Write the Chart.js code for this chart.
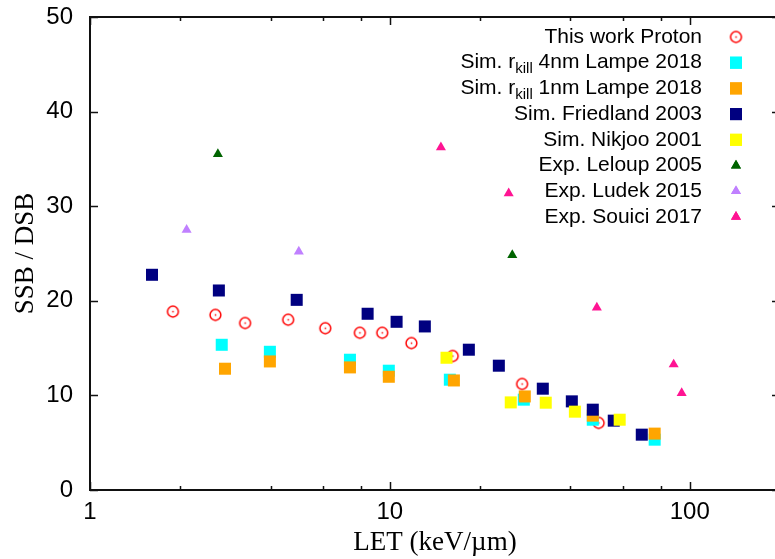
<!DOCTYPE html>
<html>
<head>
<meta charset="utf-8">
<script src="https://cdn.jsdelivr.net/npm/chart.js@4.4.0/dist/chart.umd.min.js"></script>
<style>
  html, body { margin: 0; padding: 0; background: #fff; overflow: hidden; }
  #wrap { width: 790px; height: 559px; }
</style>
</head>
<body>
<div id="wrap"><canvas id="chart"></canvas></div>
<script>
// series labels ("_{...}" marks a subscript)
const seriesLabels = [
    'This work Proton',
    'Sim. r_{kill} 4nm Lampe 2018',
    'Sim. r_{kill} 1nm Lampe 2018',
    'Sim. Friedland 2003',
    'Sim. Nikjoo 2001',
    'Exp. Leloup 2005',
    'Exp. Ludek 2015',
    'Exp. Souici 2017'
];

// LET (keV/um) and SSB/DSB values
const protonLet = [1.89, 2.62, 3.29, 4.58, 6.09, 7.94, 9.43, 11.8, 16.2, 27.6, 49.7];
const protonRatio = [18.86, 18.51, 17.65, 18.0, 17.1, 16.62, 16.62, 15.53, 14.16, 11.21, 7.09];

const lampe4Let = [2.75, 3.98, 7.36, 9.92, 15.85, 27.97, 47.5, 76.4];
const lampe4Ratio = [15.35, 14.61, 13.77, 12.61, 11.66, 9.55, 7.43, 5.32];

const lampe1Let = [2.82, 3.98, 7.36, 9.92, 16.35, 28.18, 47.5, 76.4];
const lampe1Ratio = [12.82, 13.59, 12.96, 11.97, 11.58, 9.89, 7.86, 5.96];

const friedlandLet = [1.61, 2.69, 4.89, 8.43, 10.53, 13.08, 18.34, 23.09, 32.36, 40.44, 47.5, 55.8, 69.2];
const friedlandRatio = [22.75, 21.09, 20.1, 18.63, 17.78, 17.29, 14.83, 13.14, 10.71, 9.37, 8.49, 7.33, 5.85];

const nikjooLet = [15.45, 25.3, 33.1, 41.4, 58.4];
const nikjooRatio = [13.98, 9.26, 9.23, 8.28, 7.43];

const leloupLet = [2.67, 25.6];
const leloupRatio = [35.5, 24.83];

const ludekLet = [2.1, 4.97];
const ludekRatio = [27.5, 25.2];

const souiciLet = [14.8, 24.9, 49.0, 88.4, 94.0];
const souiciRatio = [36.23, 31.37, 19.29, 13.27, 10.25];

const xTickValues = [1, 10, 100];
const xMinorValues = [2, 4, 6, 8, 20, 40, 60, 80, 200];
const yTickValues = [0, 10, 20, 30, 40, 50];

function pts(xs, ys) {
    return xs.map((x, i) => ({ x: x, y: ys[i] }));
}

// open circle with a dot in the middle
const ringImg = document.createElement('canvas');
ringImg.width = 15; ringImg.height = 15;
(function() {
    const c = ringImg.getContext('2d');
    c.strokeStyle = '#ff0000';
    c.lineWidth = 1.5;
    c.beginPath();
    c.arc(7.5, 7.5, 5.4, 0, Math.PI * 2);
    c.stroke();
    c.fillStyle = '#ff0000';
    c.fillRect(6.8, 6.8, 1.5, 1.5);
})();

function squareSet(label, xs, ys, color, i) {
    return { label: label, data: pts(xs, ys), backgroundColor: color, pointStyle: 'rect',
             pointRadius: 8.5, pointBorderWidth: 0, order: -i };
}
function triSet(label, xs, ys, color, i) {
    return { label: label, data: pts(xs, ys), backgroundColor: color, pointStyle: 'triangle',
             pointRadius: 5.8, pointBorderWidth: 0, order: -i };
}

const datasets = [
    { label: seriesLabels[0], data: pts(protonLet, protonRatio), pointStyle: ringImg,
      pointRadius: 7, backgroundColor: '#ff0000', order: 0 },
    squareSet(seriesLabels[1], lampe4Let, lampe4Ratio, '#00ffff', 1),
    squareSet(seriesLabels[2], lampe1Let, lampe1Ratio, '#ffa500', 2),
    squareSet(seriesLabels[3], friedlandLet, friedlandRatio, '#000080', 3),
    squareSet(seriesLabels[4], nikjooLet, nikjooRatio, '#ffff00', 4),
    triSet(seriesLabels[5], leloupLet, leloupRatio, '#006400', 5),
    triSet(seriesLabels[6], ludekLet, ludekRatio, '#c080ff', 6),
    triSet(seriesLabels[7], souiciLet, souiciRatio, '#ff1493', 7)
];

// frame with inward ticks on all four sides
const framePlugin = {
    id: 'frame',
    afterDatasetsDraw(chart) {
        const { ctx, chartArea: a, scales } = chart;
        ctx.save();
        ctx.strokeStyle = '#111';
        ctx.lineWidth = 1.5;
        ctx.beginPath();
        xTickValues.concat(xMinorValues).forEach(v => {
            const len = xTickValues.includes(v) ? 8 : 4;
            const px = Math.round(scales.x.getPixelForValue(v)) + 0.5;
            ctx.moveTo(px, a.bottom); ctx.lineTo(px, a.bottom - len);
            ctx.moveTo(px, a.top); ctx.lineTo(px, a.top + len);
        });
        yTickValues.forEach(v => {
            const py = Math.round(scales.y.getPixelForValue(v)) + 0.5;
            ctx.moveTo(a.left, py); ctx.lineTo(a.left + 8, py);
            ctx.moveTo(a.right, py); ctx.lineTo(a.right - 8, py);
        });
        ctx.stroke();
        ctx.lineWidth = 2;
        ctx.strokeRect(a.left, a.top, a.right - a.left, a.bottom - a.top);
        ctx.restore();
    }
};

// legend at the top right, text right-aligned, subscripts supported
const legendPlugin = {
    id: 'keyBox',
    afterDatasetsDraw(chart) {
        const ctx = chart.ctx;
        const textRight = 702, markX = 736, top = 37, step = 25.7;
        const big = '21px "Liberation Sans", Arial, sans-serif';
        const small = '15px "Liberation Sans", Arial, sans-serif';
        ctx.save();
        ctx.textBaseline = 'middle';
        chart.data.datasets.forEach((ds, i) => {
            const y = top + i * step;
            const parts = [];
            ds.label.split(/(_\{[^}]*\})/).forEach(p => {
                if (!p) return;
                if (p.startsWith('_{')) parts.push({ t: p.slice(2, -1), sub: true });
                else parts.push({ t: p, sub: false });
            });
            let total = 0;
            parts.forEach(p => { ctx.font = p.sub ? small : big; p.w = ctx.measureText(p.t).width; total += p.w; });
            let x = textRight - total;
            ctx.fillStyle = '#000';
            ctx.textAlign = 'left';
            parts.forEach(p => {
                ctx.font = p.sub ? small : big;
                ctx.fillText(p.t, x, p.sub ? y + 6 : y);
                x += p.w;
            });
            ctx.fillStyle = ds.backgroundColor;
            Chart.helpers.drawPoint(ctx, {
                pointStyle: ds.pointStyle, radius: ds.pointRadius, rotation: 0, borderWidth: 0
            }, markX, y);
            ctx.fill();
        });
        ctx.restore();
    }
};

new Chart(document.getElementById('chart'), {
    type: 'scatter',
    data: { datasets: datasets },
    options: {
        responsive: true,
        maintainAspectRatio: false,
        animation: false,
        layout: { padding: { top: 17, right: 10, left: 0, bottom: 0 } },
        plugins: { legend: { display: false }, tooltip: { enabled: false } },
        scales: {
            x: {
                type: 'logarithmic',
                min: 1,
                max: 200,
                afterBuildTicks: s => { s.ticks = xTickValues.map(v => ({ value: v })); },
                afterFit: s => { s.height = 69; s.paddingLeft = 0; s.paddingRight = 0; },
                grid: { display: false },
                border: { display: false },
                ticks: {
                    color: '#000',
                    padding: 0,
                    maxRotation: 0,
                    autoSkip: false,
                    font: { family: '"Liberation Sans", Arial, sans-serif', size: 24 },
                    callback: v => String(v)
                },
                title: {
                    display: true,
                    text: 'LET (keV/\u00b5m)',
                    color: '#000',
                    padding: { top: 2, bottom: 0 },
                    font: { family: '"Liberation Serif", "Times New Roman", serif', size: 27 }
                }
            },
            y: {
                min: 0,
                max: 50,
                afterBuildTicks: s => { s.ticks = yTickValues.map(v => ({ value: v })); },
                afterFit: s => { s.width = 90; s.paddingTop = 0; s.paddingBottom = 0; },
                grid: { display: false },
                border: { display: false },
                ticks: {
                    color: '#000',
                    padding: 9,
                    font: { family: '"Liberation Sans", Arial, sans-serif', size: 24 }
                },
                title: {
                    display: true,
                    text: 'SSB / DSB',
                    color: '#000',
                    padding: { top: 10, bottom: 0 },
                    font: { family: '"Liberation Serif", "Times New Roman", serif', size: 27 }
                }
            }
        }
    },
    plugins: [framePlugin, legendPlugin]
});
</script>
</body>
</html>
